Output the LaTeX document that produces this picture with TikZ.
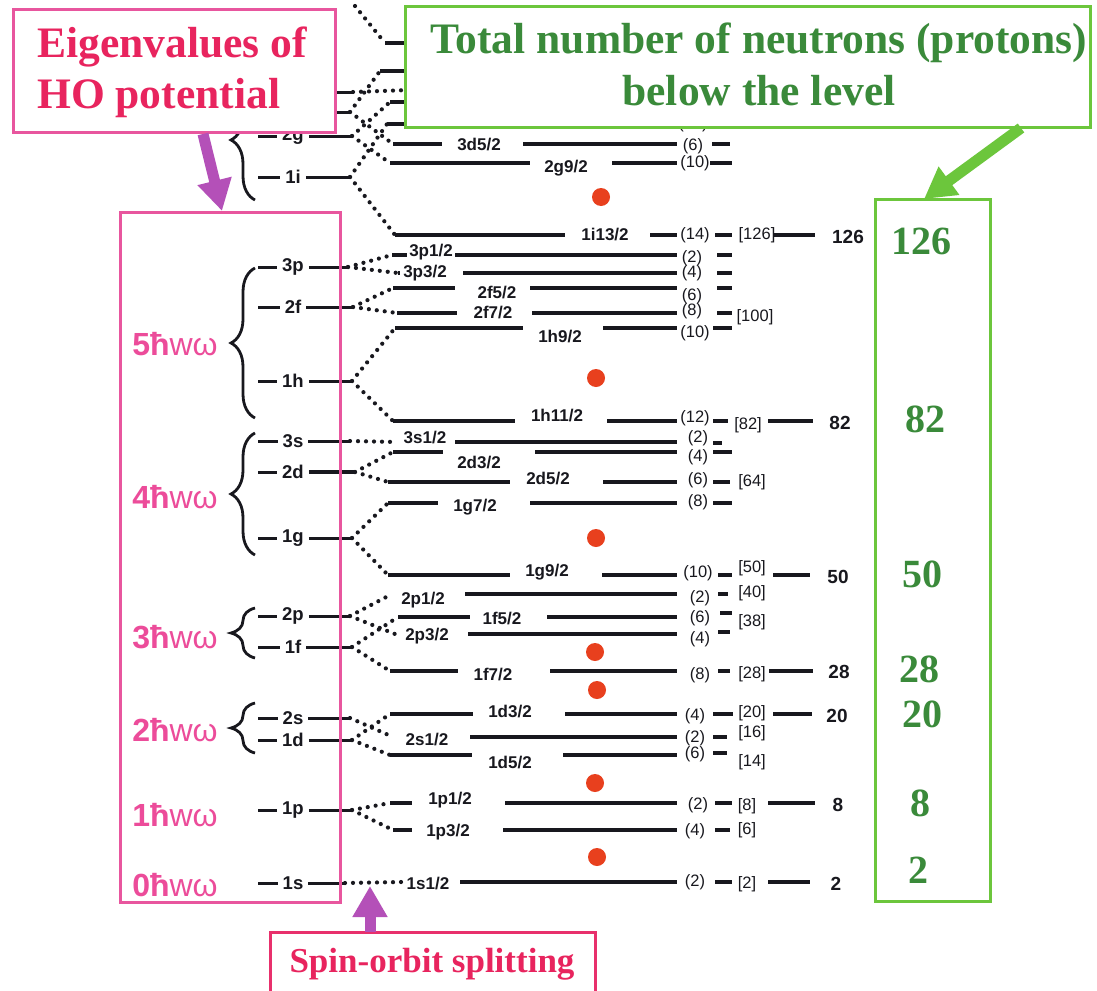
\documentclass[tikz,border=0pt]{standalone}
\usepackage{fontspec}
\setmainfont{Liberation Serif}
\setsansfont{Liberation Sans}
\usetikzlibrary{decorations.pathreplacing,arrows.meta}
\definecolor{pinkbox}{HTML}{E8569E}
\definecolor{pinktxt}{HTML}{EC4C9A}
\definecolor{titlered}{HTML}{E8245E}
\definecolor{redbox}{HTML}{E8306C}
\definecolor{purp}{HTML}{B450B8}
\definecolor{gbox}{HTML}{6CC63C}
\definecolor{gtxt}{HTML}{3A8A3A}
\definecolor{dotred}{HTML}{E8401E}
\definecolor{ink}{HTML}{18181E}
% j-level: name, y, xL, gapA, gapB, label, lx, ly
\newcommand\jlev[8]{%
  \coordinate (#1) at (#3,#2);
  \node[jl] (#1t) at (#7,#8) {#6};
  \draw[lvl] (#1) -- (#4,#2);
  \draw[lvl] (#5,#2) -- (677,#2);
}
% right side: name, degx, degy, deg, dash x1, dash x2, dash y
\newcommand\rside[7]{%
  \node[dgs] (#1d) at (#2,#3) {(#4)};
  \draw[lvl] (#5,#7) -- (#6,#7);
}
% bracket: name, x, y, text
\newcommand\brk[4]{\node[dgs] (#1b) at (#2,#3) {[#4]};}
% magic: name, y, x1, x2, text, tx, ty
\newcommand\magic[7]{%
  \draw[lvl] (#3,#2) -- (#4,#2);
  \node[mag] (#1m) at (#6,#7) {#5};
}
% HO level: name, y, label, xR
\newcommand\holev[4]{%
  \node[hol] (#1t) at (293,#2) {#3};
  \coordinate (#1) at (#4,#2);
  \draw[ho] (258,#2) -- (#1t.west);
  \draw[ho] (#1t.east) -- (#1);
}
\begin{document}
\begin{tikzpicture}[x=1pt,y=-1pt,
  lvl/.style={line width=3.3pt, draw=ink},
  ho/.style={line width=3pt, draw=ink},
  dots/.style={line width=4.2pt, draw=ink, line cap=round, dash pattern=on 0pt off 8pt},
  jl/.style={font=\sffamily\bfseries\fontsize{17}{17}\selectfont, text=ink, inner sep=0pt},
  hol/.style={font=\sffamily\bfseries\fontsize{18.5}{18}\selectfont, text=ink, inner xsep=5pt, inner ysep=0pt},
  dgs/.style={font=\sffamily\fontsize{16.5}{17}\selectfont, text=ink, inner sep=0pt},
  mag/.style={font=\sffamily\bfseries\fontsize{19}{19}\selectfont, text=ink, inner sep=0pt},
  hw/.style={font=\sffamily\fontsize{32}{32}\selectfont, text=pinktxt, inner sep=0pt},
  gnum/.style={font=\bfseries\fontsize{40}{40}\selectfont, text=gtxt, inner sep=0pt},
  ttl/.style={font=\bfseries\fontsize{43.5}{43}\selectfont, inner sep=0pt},
  rdot/.style={circle, fill=dotred, draw=none, minimum size=18pt, inner sep=0pt},
  brc/.style={decorate, decoration={brace, amplitude=24pt}, line width=2.8pt, draw=ink},
  bigarrow/.style={line width=11pt, -{Triangle[width=33pt,length=31pt]}}
]
\fill[white] (0,0) rectangle (1097,990);
\clip (0,0) rectangle (1097,990);

% ---------- HO levels ----------
\coordinate (h4s) at (353,92);
\coordinate (h3d) at (350,112);
\draw[ho] (320,92) -- (h4s);
\draw[ho] (320,112) -- (h3d);
\holev{h2g}{136}{2g}{352}
\holev{h1i}{177}{1i}{350}
\holev{h3p}{267}{3p}{348}
\holev{h2f}{307}{2f}{353}
\holev{h1h}{381}{1h}{352}
\holev{h3s}{441}{3s}{350}
\holev{h2d}{472}{2d}{355}
\draw[line width=4.6pt, draw=ink] (h2dt.east) -- (h2d);
\holev{h1g}{538}{1g}{352}
\holev{h2p}{616}{2p}{350}
\holev{h1f}{647}{1f}{352}
\holev{h2s}{718}{2s}{350}
\holev{h1d}{740}{1d}{352}
\holev{h1p}{810}{1p}{352}
\holev{h1s}{883}{1s}{345}

% ---------- braces ----------
\draw[brc] (255,200) -- (255,80);
\draw[brc] (255,418) -- (255,268);
\draw[brc] (255,555) -- (255,433);
\draw[brc] (255,658) -- (255,608);
\draw[brc] (255,753) -- (255,703);

% ---------- HO energies ----------
\node[hw] (e5) at (175,344) {\textbf{5ħ}wω};
\node[hw] (e4) at (175,497) {\textbf{4ħ}wω};
\node[hw] (e3) at (175,637) {\textbf{3ħ}wω};
\node[hw] (e2) at (175,730) {\textbf{2ħ}wω};
\node[hw] (e1) at (175,815) {\textbf{1ħ}wω};
\node[hw] (e0) at (175,885) {\textbf{0ħ}wω};

% ---------- j levels (top, mostly hidden) ----------
\coordinate (jtop) at (355,6);
\coordinate (j1j) at (385,43);
\draw[lvl] (j1j) -- (430,43);
\coordinate (j3d3) at (380,71);
\draw[lvl] (j3d3) -- (430,71);
\coordinate (j4s) at (410,90);
\coordinate (j2g7) at (390,102);
\draw[lvl] (j2g7) -- (430,102);
\coordinate (j1i11) at (387,124);
\draw[lvl] (j1i11) -- (430,124);
\node[dgs] (n12) at (693,124) {(12)};

\jlev{j3d5}{144}{393}{442}{523}{3d5/2}{479}{145}
\rside{j3d5}{693}{146}{6}{712}{730}{144}
\jlev{j2g9}{163}{390}{530}{612}{2g9/2}{566}{168}
\rside{j2g9}{695}{163}{10}{710}{732}{163}
\node[rdot] (d1) at (601,197) {};

\jlev{j1i13}{235}{395}{565}{650}{1i13/2}{605}{235}
\rside{j1i13}{695}{235}{14}{715}{732}{235}
\brk{j1i13}{757}{235}{126}
\magic{m126}{235}{774}{815}{126}{848}{237}

\jlev{j3p1}{255}{392}{407}{455}{3p1/2}{431}{252}
\rside{j3p1}{692}{258}{2}{717}{732}{255}
\jlev{j3p3}{273}{398}{400}{463}{3p3/2}{425}{273}
\rside{j3p3}{692}{273}{4}{717}{732}{273}
\jlev{j2f5}{288}{393}{455}{530}{2f5/2}{497}{293}
\rside{j2f5}{692}{296}{6}{717}{732}{288}
\jlev{j2f7}{313}{397}{457}{532}{2f7/2}{493}{313}
\rside{j2f7}{692}{311}{8}{717}{732}{313}
\brk{j2f7}{755}{317}{100}
\jlev{j1h9}{328}{395}{523}{603}{1h9/2}{560}{337}
\rside{j1h9}{695}{333}{10}{713}{732}{328}
\node[rdot] (d2) at (596,378) {};

\jlev{j1h11}{421}{393}{515}{607}{1h11/2}{557}{416}
\rside{j1h11}{695}{418}{12}{713}{728}{421}
\brk{j1h11}{748}{425}{82}
\magic{m82}{421}{768}{813}{82}{840}{423}

\jlev{j3s}{442}{397}{397}{455}{3s1/2}{425}{438}
\rside{j3s}{698}{438}{2}{713}{722}{443}
\jlev{j2d3}{452}{393}{443}{535}{2d3/2}{479}{463}
\rside{j2d3}{698}{457}{4}{713}{732}{452}
\jlev{j2d5}{482}{388}{510}{603}{2d5/2}{548}{479}
\rside{j2d5}{698}{480}{6}{713}{730}{482}
\brk{j2d5}{752}{482}{64}
\jlev{j1g7}{503}{388}{438}{530}{1g7/2}{475}{507}
\rside{j1g7}{698}{502}{8}{713}{732}{503}
\node[rdot] (d3) at (596,538) {};

\jlev{j1g9}{575}{388}{510}{602}{1g9/2}{547}{572}
\rside{j1g9}{698}{573}{10}{718}{732}{575}
\brk{j1g9}{752}{568}{50}
\magic{m50}{575}{773}{810}{50}{838}{577}

\jlev{j2p1}{594}{392}{392}{465}{2p1/2}{423}{600}
\rside{j2p1}{700}{598}{2}{718}{728}{594}
\brk{j2p1}{752}{593}{40}
\jlev{j1f5}{617}{398}{470}{547}{1f5/2}{502}{619}
\rside{j1f5}{700}{618}{6}{720}{732}{613}
\brk{j1f5}{752}{622}{38}
\jlev{j2p3}{634}{395}{395}{468}{2p3/2}{427}{636}
\rside{j2p3}{700}{639}{4}{718}{730}{632}
\node[rdot] (d4) at (595,652) {};

\jlev{j1f7}{671}{390}{458}{550}{1f7/2}{493}{675}
\rside{j1f7}{700}{675}{8}{718}{730}{671}
\brk{j1f7}{752}{674}{28}
\magic{m28}{671}{769}{813}{28}{839}{672}
\node[rdot] (d5) at (597,690) {};

\jlev{j1d3}{714}{390}{473}{565}{1d3/2}{510}{712}
\rside{j1d3}{695}{716}{4}{713}{733}{714}
\brk{j1d3}{752}{713}{20}
\magic{m20}{714}{773}{812}{20}{837}{716}
\jlev{j2s}{737}{393}{393}{470}{2s1/2}{427}{740}
\rside{j2s}{695}{738}{2}{713}{727}{737}
\brk{j2s}{752}{733}{16}
\jlev{j1d5}{755}{390}{472}{563}{1d5/2}{510}{763}
\rside{j1d5}{695}{754}{6}{713}{727}{753}
\brk{j1d5}{752}{762}{14}
\node[rdot] (d6) at (595,783) {};

\jlev{j1p1}{803}{390}{412}{505}{1p1/2}{450}{800}
\rside{j1p1}{698}{805}{2}{715}{732}{803}
\brk{j1p1}{747}{806}{8}
\magic{m8}{803}{768}{815}{8}{838}{805}
\jlev{j1p3}{830}{393}{412}{503}{1p3/2}{448}{832}
\rside{j1p3}{695}{831}{4}{715}{730}{830}
\brk{j1p3}{747}{830}{6}
\node[rdot] (d7) at (597,857) {};

\jlev{j1s}{882}{402}{402}{460}{1s1/2}{428}{883}
\rside{j1s}{695}{882}{2}{715}{732}{882}
\brk{j1s}{747}{884}{2}
\magic{m2}{882}{768}{810}{2}{836}{884}

% ---------- spin-orbit dotted connectors ----------
\draw[dots] (jtop) -- (j1j);
\draw[dots] (h4s) -- (j4s);
\draw[dots] (h3d) -- (j3d3);
\draw[dots] (h3d) -- (j3d5);
\draw[dots] (h2g) -- (j2g7);
\draw[dots] (h2g) -- (j2g9);
\draw[dots] (h1i) -- (j1i11);
\draw[dots] (h1i) -- (j1i13);
\draw[dots] (h3p) -- (j3p1);
\draw[dots] (h3p) -- (j3p3);
\draw[dots] (h2f) -- (j2f5);
\draw[dots] (h2f) -- (j2f7);
\draw[dots] (h1h) -- (j1h9);
\draw[dots] (h1h) -- (j1h11);
\draw[dots] (h3s) -- (j3s);
\draw[dots] (h2d) -- (j2d3);
\draw[dots] (h2d) -- (j2d5);
\draw[dots] (h1g) -- (j1g7);
\draw[dots] (h1g) -- (j1g9);
\draw[dots] (h2p) -- (j2p1);
\draw[dots] (h2p) -- (j2p3);
\draw[dots] (h1f) -- (j1f5);
\draw[dots] (h1f) -- (j1f7);
\draw[dots] (h2s) -- (j2s);
\draw[dots] (h1d) -- (j1d3);
\draw[dots] (h1d) -- (j1d5);
\draw[dots] (h1p) -- (j1p1);
\draw[dots] (h1p) -- (j1p3);
\draw[dots] (h1s) -- (j1s);

% ---------- boxes ----------
\node[draw=pinkbox, line width=3pt, fill=white, minimum width=322pt, minimum height=122pt, inner sep=0pt] (eig) at (174,71) {};
\node[ttl, text=titlered, anchor=base west] (t1) at (37,57) {Eigenvalues of};
\node[ttl, text=titlered, anchor=base west] (t2) at (37,108) {HO potential};

\node[draw=gbox, line width=3pt, fill=white, minimum width=685pt, minimum height=120pt, inner sep=0pt] (gtop) at (747.5,67) {};
\node[ttl, text=gtxt, anchor=base] (g1) at (759,53) {Total number of neutrons (protons)};
\node[ttl, text=gtxt, anchor=base] (g2) at (759,105) {below the level};

\node[draw=pinkbox, line width=3pt, minimum width=220pt, minimum height=690pt, inner sep=0pt] (hobox) at (230,557) {};
\node[draw=gbox, line width=3pt, minimum width=115pt, minimum height=702pt, inner sep=0pt] (nbox) at (932.5,550) {};

\node[draw=redbox, line width=3pt, fill=white, minimum width=325pt, minimum height=68pt, inner sep=0pt] (sbox) at (432.5,966) {};
\node[font=\bfseries\fontsize{35}{35}\selectfont, text=titlered, anchor=base, inner sep=0pt] (s1) at (432,972) {Spin-orbit splitting};

% ---------- numbers in green box ----------
\node[gnum] (n126) at (921,241) {126};
\node[gnum] (n82) at (925,419) {82};
\node[gnum] (n50) at (922,574) {50};
\node[gnum] (n28) at (919,669) {28};
\node[gnum] (n20) at (922,714) {20};
\node[gnum] (n8) at (920,803) {8};
\node[gnum] (n2) at (918,870) {2};

% ---------- arrows ----------
\coordinate (a1s) at (203,134);
\coordinate (a1e) at (222,211);
\draw[purp, bigarrow] (a1s) -- (a1e);
\coordinate (a2s) at (370,932);
\coordinate (a2e) at (370,886);
\draw[purp, bigarrow] (a2s) -- (a2e);
\coordinate (a3s) at (1021,128);
\coordinate (a3e) at (924,199);
\draw[gbox, bigarrow] (a3s) -- (a3e);
\end{tikzpicture}
\end{document}
